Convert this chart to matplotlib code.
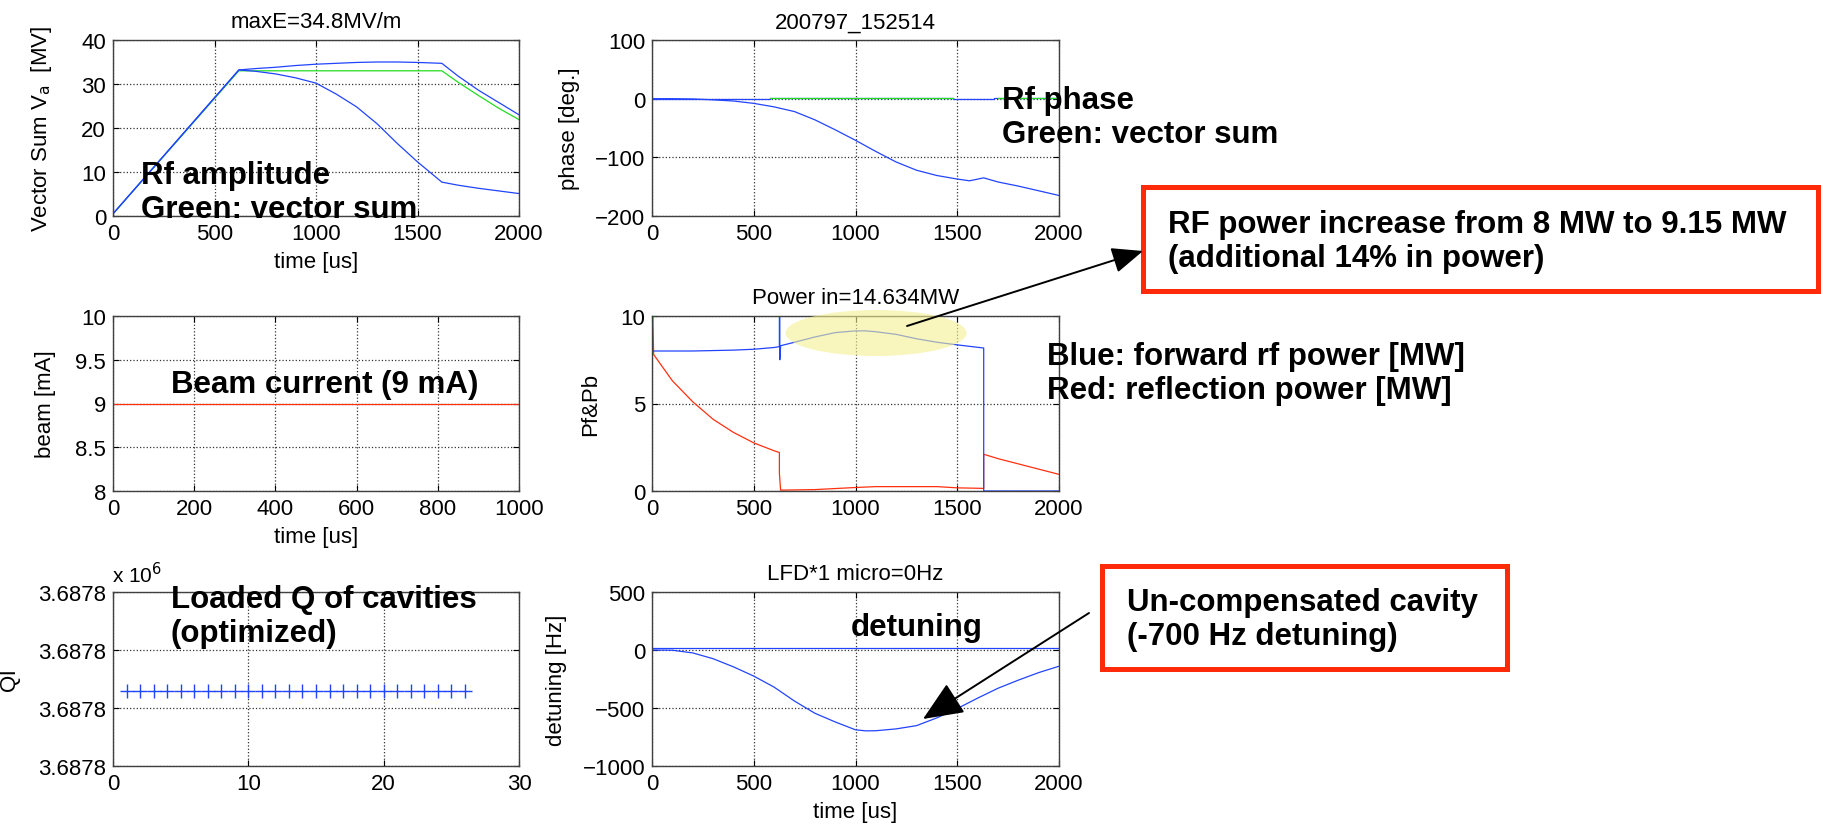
import matplotlib
matplotlib.use('Agg')
import matplotlib.pyplot as plt
import numpy as np
from matplotlib.patches import Ellipse, FancyArrowPatch, Rectangle
from matplotlib.ticker import FormatStrFormatter

# rf amplitude panel, time [us] / MV
amp_time = [0, 620, 700, 800, 900, 1000, 1100, 1200, 1300, 1400, 1500, 1620, 1700, 1800, 1900, 2000]
amp_cav_high = [0.5, 33.2, 33.5, 33.8, 34.2, 34.5, 34.7, 34.9, 35.0, 35.0, 34.9, 34.7, 31.8, 28.6, 25.8, 23.0]
amp_cav_low = [0.5, 33.2, 32.9, 32.3, 31.4, 30.2, 27.7, 24.8, 21.0, 16.5, 12.3, 7.7, 7.0, 6.3, 5.7, 5.1]
amp_vsum = [0.5, 33.0, 33.0, 33.0, 33.0, 33.0, 33.0, 33.0, 33.0, 33.0, 33.0, 33.0, 30.4, 27.4, 24.5, 21.9]

# rf phase panel, deg
ph_time = [0, 100, 200, 300, 400, 500, 600, 700, 800, 900, 1000, 1100, 1200, 1300, 1400, 1500, 1560, 1630, 1700, 1800, 1900, 2000]
ph_cav = [0, 0, -0.5, -2, -4, -8, -14, -22, -36, -53, -71, -90, -108, -122, -131, -137, -140, -135, -142, -149, -157, -165]
ph_flat_time = [0, 580, 580, 1480, 1480, 1680, 1680, 2000]
ph_flat = [0, 0, 1.5, 1.5, 0, 0, 1.5, 1.5]
ph_vsum_time = [580, 1480, 1480, 1700, 2000]
ph_vsum = [0.3, 0.3, np.nan, 0.3, 0.3]

# beam current, mA
beam_time = [0, 1000]
beam_current = [9, 9]

# forward / reflected power, MW
pf_time = [0, 200, 400, 500, 600, 626, 626, 628, 628, 632, 700, 800, 900, 1000, 1050, 1100, 1200, 1300, 1400, 1500, 1630, 1630, 2000]
pf_val = [8.0, 8.0, 8.05, 8.1, 8.2, 8.25, 10.0, 10.0, 7.5, 8.3, 8.5, 8.8, 9.05, 9.15, 9.15, 9.1, 8.95, 8.7, 8.5, 8.35, 8.17, 0.0, 0.0]
pb_time = [0, 0, 4, 8, 100, 200, 300, 400, 500, 600, 626, 626, 632, 800, 1000, 1100, 1400, 1500, 1630, 1630, 1700, 1800, 1900, 2000]
pb_val = [1.2, 10, 10, 7.8, 6.3, 5.1, 4.1, 3.35, 2.75, 2.3, 2.2, 1.0, 0.05, 0.08, 0.2, 0.25, 0.25, 0.18, 0.15, 2.1, 1.85, 1.55, 1.25, 0.95]

# loaded Q per cavity (x 10^6)
ql_cavity = list(range(1, 27))
ql_value = [3.6878129, 3.6878129, 3.6878129, 3.6878129, 3.6878129, 3.6878129, 3.6878129,
            3.6878129, 3.6878129, 3.6878129, 3.6878129, 3.6878129, 3.6878129, 3.6878129,
            3.6878129, 3.6878129, 3.6878129, 3.6878129, 3.6878129, 3.6878129, 3.6878129,
            3.6878129, 3.6878129, 3.6878129, 3.6878129, 3.6878129]
ql_ticks = [3.68780, 3.68781, 3.68782, 3.68783]

# detuning, Hz
det_time = [0, 100, 200, 300, 400, 500, 600, 700, 800, 900, 1000, 1050, 1100, 1200, 1300, 1400, 1500, 1600, 1700, 1800, 1900, 2000]
det_cav = [0, -2, -25, -75, -145, -225, -320, -440, -545, -620, -688, -697, -696, -680, -652, -585, -505, -415, -330, -260, -195, -140]
det_comp_time = [0, 2000]
det_comp = [15, 15]

BLUE = '#2244ff'
RED = '#ff3010'
GREEN = '#22dd22'
BOXRED = '#ff2a0a'
FS = 16

W, H = 1821, 828
plt.rcParams['font.family'] = ['Liberation Sans', 'DejaVu Sans']
fig = plt.figure(figsize=(W / 100, H / 100), dpi=100)


def fx(px):
    return px / W


def fy(py):
    return 1 - py / H


def make_axes(left, top, right, bottom):
    ax = fig.add_axes([fx(left), fy(bottom), fx(right - left), (bottom - top) / H])
    ax.tick_params(labelsize=FS, direction='in', top=True, right=True, length=4, width=0.8, pad=5)
    ax.grid(True, linestyle=':', color='#333333', linewidth=0.9)
    for s in ax.spines.values():
        s.set_color('#404040')
        s.set_linewidth(1.0)
    return ax


L1, R1, L2, R2 = 113, 519, 652, 1059
ax1 = make_axes(L1, 41, R1, 217)
ax2 = make_axes(L2, 41, R2, 217)
ax3 = make_axes(L1, 317, R1, 492)
ax4 = make_axes(L2, 317, R2, 492)
ax5 = make_axes(L1, 593, R1, 767)
ax6 = make_axes(L2, 593, R2, 767)

lw = 0.9

ax1.plot(amp_time, amp_vsum, color=GREEN, lw=lw)
ax1.plot(amp_time, amp_cav_low, color=BLUE, lw=lw)
ax1.plot(amp_time, amp_cav_high, color=BLUE, lw=lw)
ax1.set_xlim(0, 2000)
ax1.set_ylim(0, 40)
ax1.set_xticks([0, 500, 1000, 1500, 2000])
ax1.set_yticks([0, 10, 20, 30, 40])
ax1.set_title('maxE=34.8MV/m', fontsize=FS, pad=9)
ax1.set_xlabel('time [us]', fontsize=FS, labelpad=5)
ax1.set_ylabel('Vector Sum V$_\\mathrm{a}$  [MV]', fontsize=FS)
ax1.yaxis.set_label_coords(-0.145, 0.5)

ax2.plot(ph_flat_time, ph_flat, color=BLUE, lw=lw)
ax2.plot(ph_vsum_time, ph_vsum, color=GREEN, lw=lw)
ax2.plot(ph_time, ph_cav, color=BLUE, lw=lw)
ax2.set_xlim(0, 2000)
ax2.set_ylim(-200, 100)
ax2.set_xticks([0, 500, 1000, 1500, 2000])
ax2.set_yticks([-200, -100, 0, 100])
ax2.set_title('200797_152514', fontsize=FS, pad=9)
ax2.set_ylabel('phase [deg.]', fontsize=FS)
ax2.yaxis.set_label_coords(-0.177, 0.5)

ax3.plot(beam_time, beam_current, color=RED, lw=lw)
ax3.set_xlim(0, 1000)
ax3.set_ylim(8, 10)
ax3.set_xticks([0, 200, 400, 600, 800, 1000])
ax3.set_yticks([8, 8.5, 9, 9.5, 10])
ax3.set_yticklabels(['8', '8.5', '9', '9.5', '10'])
ax3.set_xlabel('time [us]', fontsize=FS, labelpad=5)
ax3.set_ylabel('beam [mA]', fontsize=FS)
ax3.yaxis.set_label_coords(-0.14, 0.5)

ax4.plot(pb_time, pb_val, color=RED, lw=lw)
ax4.plot(pf_time, pf_val, color=BLUE, lw=lw)
ax4.set_xlim(0, 2000)
ax4.set_ylim(0, 10)
ax4.set_xticks([0, 500, 1000, 1500, 2000])
ax4.set_yticks([0, 5, 10])
ax4.set_title('Power in=14.634MW', fontsize=FS, pad=9)
ax4.set_ylabel('Pf&Pb', fontsize=FS)
ax4.yaxis.set_label_coords(-0.124, 0.5)

ax5.plot(ql_cavity, ql_value, linestyle='none', marker='+', markersize=10,
         markeredgewidth=1.0, color=BLUE)
ax5.set_xlim(0, 30)
ax5.set_ylim(ql_ticks[0], ql_ticks[-1])
ax5.set_xticks([0, 10, 20, 30])
ax5.set_yticks(ql_ticks)
ax5.yaxis.set_major_formatter(FormatStrFormatter('%.4f'))
ax5.set_ylabel('Ql', fontsize=FS)
ax5.yaxis.set_label_coords(-0.229, 0.5)
fig.text(fx(112), fy(575), 'x 10$^{6}$', fontsize=15, ha='left', va='center')

ax6.plot(det_comp_time, det_comp, color=BLUE, lw=lw)
ax6.plot(det_time, det_cav, color=BLUE, lw=lw)
ax6.set_xlim(0, 2000)
ax6.set_ylim(-1000, 500)
ax6.set_xticks([0, 500, 1000, 1500, 2000])
ax6.set_yticks([-1000, -500, 0, 500])
ax6.set_title('LFD*1 micro=0Hz', fontsize=FS, pad=9)
ax6.set_xlabel('time [us]', fontsize=FS, labelpad=5)
ax6.set_ylabel('detuning [Hz]', fontsize=FS)
ax6.yaxis.set_label_coords(-0.209, 0.5)

# highlight of the power bump
fig.add_artist(Ellipse((fx(876), fy(334)), 181 / W, 46 / H, transform=fig.transFigure,
                       facecolor='#f4f190', edgecolor='none', alpha=0.6, zorder=5))

# bold annotations
ann = dict(fontsize=22.5, fontweight='bold', ha='left', va='center', zorder=10)
fig.text(fx(141), fy(193), 'Rf amplitude\nGreen: vector sum', **ann)
fig.text(fx(1002), fy(118), 'Rf phase\nGreen: vector sum', **ann)
fig.text(fx(171), fy(385), 'Beam current (9 mA)', **ann)
fig.text(fx(1047), fy(374), 'Blue: forward rf power [MW]\nRed: reflection power [MW]', **ann)
fig.text(fx(171), fy(617), 'Loaded Q of cavities\n(optimized)', **ann)
fig.text(fx(851), fy(628), 'detuning', **ann)
fig.text(fx(1168), fy(242), 'RF power increase from 8 MW to 9.15 MW\n(additional 14% in power)', **ann)
fig.text(fx(1127), fy(620), 'Un-compensated cavity\n(-700 Hz detuning)', **ann)

# red boxes
fig.add_artist(Rectangle((fx(1143), fy(292)), (1818 - 1143) / W, (292 - 188) / H,
                         transform=fig.transFigure, fill=False, edgecolor=BOXRED, linewidth=3.6))
fig.add_artist(Rectangle((fx(1102), fy(670)), (1507 - 1102) / W, (670 - 567) / H,
                         transform=fig.transFigure, fill=False, edgecolor=BOXRED, linewidth=3.6))

# arrows
fig.add_artist(FancyArrowPatch((fx(907), fy(327)), (fx(1143), fy(252)), transform=fig.transFigure,
                               arrowstyle='-|>,head_length=1.2,head_width=0.5', mutation_scale=16,
                               color='black', linewidth=1.4, shrinkA=0, shrinkB=0, zorder=11))
fig.add_artist(FancyArrowPatch((fx(1089), fy(614)), (fx(923), fy(720)), transform=fig.transFigure,
                               arrowstyle='-|>,head_length=1.4,head_width=0.6', mutation_scale=18,
                               color='black', linewidth=1.4, shrinkA=0, shrinkB=0, zorder=11))

fig.savefig('out.png', dpi=100)
